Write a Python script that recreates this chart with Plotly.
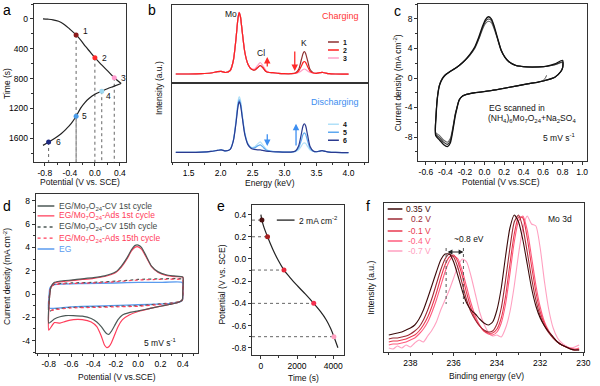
import plotly.graph_objects as go

# ======================= DATA =======================
# (a) charge / discharge: potential (V vs SCE) vs time (s)
a_charge_potential = [-0.83, -0.75, -0.67, -0.58, -0.49, -0.40, -0.30, -0.22, -0.15, -0.07, 0.00, 0.10, 0.20, 0.31, 0.42]
a_charge_time = [0, 4, 12, 32, 75, 138, 215, 292, 370, 448, 521, 610, 695, 790, 866]
a_discharge_potential = [0.42, 0.30, 0.20, 0.11, 0.00, -0.09, -0.16, -0.23, -0.30, -0.38, -0.46, -0.54, -0.64, -0.74, -0.83]
a_discharge_time = [866, 905, 937, 970, 1012, 1065, 1122, 1200, 1306, 1405, 1478, 1540, 1600, 1652, 1697]
a_marker_potential = [-0.30, 0.00, 0.31, 0.11, -0.30, -0.74]
a_marker_time = [215, 521, 790, 970, 1306, 1652]
a_marker_labels = ["1", "2", "3", "4", "5", "6"]
a_x_ticks = [-0.8, -0.4, 0.0, 0.4]
a_y_ticks = [0, 400, 800, 1200, 1600]

# (b) EDS spectra (intensity, a.u.)
b_energy = [1.30, 1.50, 1.70, 1.85, 1.95, 2.01, 2.08, 2.15, 2.20, 2.24,
            2.27, 2.29, 2.31, 2.34, 2.38, 2.43, 2.48, 2.53, 2.58, 2.62,
            2.66, 2.71, 2.76, 2.82, 2.90, 3.00, 3.10, 3.17, 3.22, 3.26,
            3.29, 3.31, 3.33, 3.36, 3.40, 3.45, 3.50, 3.55, 3.59, 3.64,
            3.70, 3.80, 3.90, 4.00]
b_charge_1 = [0.5, 0.5, 0.8, 1.5, 2.8, 3.2, 2.0, 4.0, 14, 35,
              55, 62, 58, 42, 22, 10, 5.5, 4.5, 7, 9,
              7, 3, 2, 1.8, 1.2, 0.8, 0.8, 1.5, 5, 14,
              21, 23, 21, 14, 5, 1.8, 1.2, 1.8, 2.2, 1.5,
              0.8, 0.5, 0.4, 0.4]
b_charge_2 = [0.5, 0.5, 0.8, 1.5, 2.8, 3.2, 2.0, 4.0, 14, 35,
              55, 62, 58, 42, 22, 10, 5.5, 4.5, 7, 9,
              7, 3, 2, 1.8, 1.2, 0.8, 0.8, 1.3, 3.5, 8,
              12, 13, 12, 8, 3.2, 1.5, 1.2, 1.8, 2.2, 1.5,
              0.8, 0.5, 0.4, 0.4]
b_charge_3 = [0.5, 0.5, 0.8, 1.5, 2.8, 3.2, 2.0, 4.0, 14, 35,
              55, 62.5, 58, 42, 22, 10, 6, 5.5, 9, 12,
              9, 4, 2.2, 1.8, 1.2, 0.8, 0.8, 1.0, 2.0, 3.5,
              5, 5.5, 5, 3.5, 2.0, 1.4, 1.2, 1.8, 2.2, 1.5,
              0.8, 0.5, 0.4, 0.4]
b_discharge_4 = [0.5, 0.5, 0.8, 1.5, 2.5, 3.0, 2.0, 3.8, 13, 32,
                 50, 56, 53, 38, 20, 9, 5.5, 6, 9, 11,
                 8, 4, 2.2, 1.5, 1.0, 0.8, 0.8, 1.3, 3, 6.5,
                 9.5, 10, 9.5, 6.5, 2.8, 1.4, 1.2, 1.8, 2.2, 1.5,
                 0.8, 0.5, 0.4, 0.4]
b_discharge_5 = [0.5, 0.5, 0.8, 1.5, 2.5, 3.0, 2.0, 3.6, 12.5, 30,
                 47, 53, 50, 36, 19, 8.5, 5, 5, 7, 8,
                 6, 3, 2, 1.4, 1.0, 0.8, 0.8, 1.6, 5, 12,
                 18.5, 20, 18.5, 12, 4.5, 1.7, 1.2, 1.8, 2.2, 1.5,
                 0.8, 0.5, 0.4, 0.4]
b_discharge_6 = [0.5, 0.5, 0.8, 1.5, 2.5, 3.0, 2.0, 3.5, 12, 29,
                 45, 51, 48, 35, 18, 8, 4.5, 3.5, 3, 3,
                 2.5, 1.8, 1.5, 1.2, 1.0, 0.8, 0.8, 2.0, 7, 18,
                 27, 29, 27, 18, 6.5, 2, 1.2, 1.8, 2.4, 1.5,
                 0.8, 0.5, 0.4, 0.4]
b_x_ticks = [1.5, 2.0, 2.5, 3.0, 3.5, 4.0]

# (c) CV of EG in (NH4)6Mo7O24 + Na2SO4, three cycles
c_potential = [-0.50, -0.495, -0.48, -0.46, -0.43, -0.40, -0.35, -0.30, -0.25, -0.20,
               -0.15, -0.10, -0.06, -0.02, 0.01, 0.04, 0.07, 0.10, 0.13, 0.17,
               0.21, 0.25, 0.32, 0.44, 0.55, 0.64, 0.72, 0.80, 0.80, 0.78,
               0.72, 0.64, 0.55, 0.44, 0.32, 0.20, 0.07, -0.04, -0.10, -0.16,
               -0.20, -0.23, -0.26, -0.28, -0.30, -0.32, -0.35, -0.38, -0.42, -0.46,
               -0.50]
c_current_1 = [-7.8, -5.0, -2.5, -1.0, -0.1, 0.4, 0.9, 1.3, 1.8, 2.4,
               3.2, 4.2, 5.5, 7.0, 7.9, 8.3, 8.0, 7.0, 5.6, 3.8,
               2.8, 2.2, 1.7, 1.5, 1.5, 1.6, 1.9, 2.4, 1.4, 0.85,
               0.1, -0.27, -0.55, -0.8, -1.1, -1.4, -1.7, -1.9, -2.0, -2.15,
               -2.3, -2.5, -3.0, -4.0, -5.2, -6.8, -8.8, -9.3, -9.0, -8.4,
               -7.8]
c_current_2 = [-7.6, -4.9, -2.4, -0.9, 0.0, 0.45, 0.9, 1.3, 1.8, 2.4,
               3.1, 4.1, 5.3, 6.8, 7.7, 8.0, 7.8, 6.8, 5.5, 3.8,
               2.8, 2.2, 1.7, 1.5, 1.5, 1.6, 1.8, 2.2, 1.4, 0.85,
               0.1, -0.27, -0.55, -0.8, -1.1, -1.4, -1.7, -1.9, -2.0, -2.15,
               -2.3, -2.5, -3.0, -3.9, -5.0, -6.6, -8.5, -9.0, -8.7, -8.1,
               -7.6]
c_current_3 = [-7.4, -4.8, -2.3, -0.9, 0.0, 0.45, 0.9, 1.3, 1.8, 2.4,
               3.1, 4.0, 5.2, 6.6, 7.4, 7.7, 7.5, 6.6, 5.4, 3.7,
               2.8, 2.2, 1.7, 1.5, 1.5, 1.6, 1.8, 2.1, 1.4, 0.85,
               0.1, -0.27, -0.55, -0.8, -1.1, -1.4, -1.7, -1.9, -2.0, -2.15,
               -2.3, -2.5, -3.0, -3.9, -4.9, -6.4, -8.2, -8.7, -8.4, -7.8,
               -7.4]
# start of the first scan (open-circuit potential)
c_start_potential = [0.635, 0.625, 0.61, 0.60]
c_start_current = [0.35, 0.05, -0.2, -0.35]
c_x_ticks = [-0.6, -0.4, -0.2, 0.0, 0.2, 0.4, 0.6, 0.8, 1.0]
c_y_ticks = [-8, -4, 0, 4, 8]

# (d) CVs of EG / Mo7O24 electrodes
d_potential_1st = [-0.80, -0.795, -0.78, -0.75, -0.70, -0.60, -0.50, -0.40, -0.30, -0.20,
                   -0.15, -0.10, -0.06, -0.03, 0.00, 0.03, 0.07, 0.12, 0.18, 0.25,
                   0.32, 0.40, 0.40, 0.395, 0.35, 0.28, 0.20, 0.10, 0.00, -0.08,
                   -0.14, -0.18, -0.21, -0.24, -0.26, -0.28, -0.30, -0.33, -0.37, -0.42,
                   -0.50, -0.58, -0.65, -0.70, -0.75, -0.80]
d_cv_1st = [-2.5, -0.5, 0.6, 1.0, 1.1, 1.2, 1.3, 1.4, 1.55, 1.9,
            2.4, 3.1, 3.8, 4.15, 4.2, 4.0, 3.3, 2.4, 1.9, 1.65,
            1.55, 1.45, 0.2, -0.5, -0.75, -0.9, -1.05, -1.25, -1.45, -1.6,
            -1.8, -2.2, -2.7, -3.2, -3.45, -3.4, -3.2, -2.8, -2.4, -2.1,
            -1.9, -1.85, -1.85, -1.95, -2.15, -2.5]
d_ads_1st = [-3.1, -0.5, 0.6, 0.95, 1.05, 1.15, 1.25, 1.35, 1.5, 1.85,
             2.3, 3.0, 3.7, 4.0, 4.05, 3.85, 3.2, 2.35, 1.85, 1.6,
             1.5, 1.45, 0.2, -0.5, -0.75, -0.9, -1.05, -1.25, -1.5, -1.8,
             -2.2, -2.8, -3.5, -4.2, -4.5, -4.6, -4.4, -3.6, -2.8, -2.4,
             -2.2, -2.2, -2.35, -2.5, -2.45, -3.1]
d_potential_15th = [-0.80, -0.795, -0.78, -0.75, -0.60, -0.40, -0.20, 0.00, 0.20, 0.40,
                    0.40, 0.395, 0.35, 0.20, 0.00, -0.20, -0.40, -0.60, -0.75, -0.80]
d_cv_15th = [-1.5, -0.2, 0.6, 0.85, 0.95, 1.0, 1.1, 1.25, 1.3, 1.25,
             0.3, -0.55, -0.7, -0.85, -1.0, -1.05, -1.1, -1.15, -1.3, -1.5]
d_ads_15th = [-1.4, -0.2, 0.6, 0.8, 0.9, 0.95, 1.05, 1.2, 1.25, 1.2,
              0.3, -0.55, -0.72, -0.9, -1.05, -1.1, -1.15, -1.2, -1.35, -1.45]
d_potential_eg = [-0.80, -0.798, -0.79, -0.77, -0.70, -0.50, -0.20, 0.00, 0.20, 0.395,
                  0.40, 0.40, 0.395, 0.37, 0.30, 0.10, -0.10, -0.40, -0.60, -0.80]
d_eg = [-1.2, -0.3, 0.5, 0.75, 0.85, 0.9, 0.95, 1.0, 1.0, 1.0,
        0.6, -0.3, -0.55, -0.7, -0.8, -0.9, -0.95, -1.05, -1.1, -1.2]
d_legend_names = ["EG/Mo<sub>7</sub>O<sub>24</sub>-CV 1st cycle",
                  "EG/Mo<sub>7</sub>O<sub>24</sub>-Ads 1st cycle",
                  "EG/Mo<sub>7</sub>O<sub>24</sub>-CV 15th cycle",
                  "EG/Mo<sub>7</sub>O<sub>24</sub>-Ads 15th cycle",
                  "EG"]
d_x_ticks = [-0.8, -0.6, -0.4, -0.2, 0.0, 0.2, 0.4]
d_y_ticks = [-4, -2, 0, 2, 4, 6, 8]

# (e) galvanostatic discharge at 2 mA cm-2
e_time = [0, 55, 180, 367, 650, 950, 1277, 1600, 1973, 2450, 2920, 3300, 3616, 3850, 4037, 4257]
e_potential = [0.40, 0.35, 0.28, 0.20, 0.09, -0.01, -0.10, -0.165, -0.234, -0.315, -0.40, -0.475, -0.55, -0.625, -0.70, -0.80]
e_marker_time = [55, 367, 1277, 2920, 4037]
e_marker_potential = [0.35, 0.20, -0.10, -0.40, -0.70]
e_x_ticks = [0, 2000, 4000]
e_y_ticks = [-0.8, -0.6, -0.4, -0.2, 0.0, 0.2, 0.4]

# (f) XPS Mo 3d at different potentials
f_binding_energy = [239.0, 238.8, 238.6, 238.4, 238.2, 238.0, 237.8, 237.6, 237.4, 237.2,
                    237.0, 236.8, 236.6, 236.4, 236.2, 236.0, 235.8, 235.6, 235.4, 235.2,
                    235.0, 234.8, 234.6, 234.4, 234.2, 234.0, 233.8, 233.6, 233.4, 233.2,
                    233.0, 232.8, 232.6, 232.4, 232.2, 232.0, 231.8, 231.6, 231.4, 231.2,
                    231.0, 230.8, 230.6, 230.4, 230.2]
f_035V = [17, 18, 19, 20, 22, 24, 27, 33, 42, 54,
          67, 80, 92, 98, 98, 90, 76, 61, 49, 42,
          38, 33, 29, 27, 30, 42, 64, 96, 124, 137,
          130, 112, 88, 64, 46, 34, 26, 20, 15, 10,
          7, 5, 3, 2, 2]
f_02V = [13, 14, 14, 15, 16, 18, 21, 25, 32, 42,
         54, 68, 82, 93, 98, 95, 84, 68, 52, 40,
         32, 26, 22, 20, 21, 28, 44, 72, 104, 130,
         137, 124, 100, 74, 52, 36, 26, 19, 14, 10,
         7, 5, 3, 2, 2]
f_m01V = [10, 11, 11, 12, 13, 15, 17, 21, 27, 35,
          46, 59, 74, 87, 95, 97, 90, 76, 59, 44,
          33, 26, 21, 19, 19, 23, 34, 56, 88, 118,
          135, 134, 114, 86, 60, 40, 28, 20, 14, 10,
          7, 5, 3, 2, 3]
f_m04V = [7, 8, 8, 9, 10, 12, 14, 18, 23, 30,
          40, 52, 66, 80, 91, 96, 93, 81, 65, 49,
          36, 27, 21, 18, 17, 20, 29, 48, 78, 110,
          131, 136, 122, 95, 67, 45, 30, 21, 15, 10,
          7, 5, 4, 3, 4]
f_m07V = [4, 3, 6, 4, 7, 5, 9, 12, 10, 16,
          22, 30, 42, 52, 62, 74, 86, 93, 90, 76,
          58, 40, 28, 20, 16, 17, 15, 24, 40, 66,
          98, 124, 136, 128, 126, 104, 70, 42, 24, 14,
          9, 6, 4, 5, 7]
f_labels = ["0.35 V", "0.2 V", "-0.1 V", "-0.4 V", "-0.7 V"]
f_shift_peaks = [236.35, 235.55]
f_x_ticks = [238, 236, 234, 232, 230]

# ======================= STYLE =======================
W, H = 600, 386
FONT = "Arial, 'Liberation Sans', Helvetica, sans-serif"
AX = "#333333"


def px(x):
    return x / W


def py(y):
    return 1 - y / H


def fmt1(v):
    return f"{v:.1f}"


def make_axis(domain, rng, tickvals, ticktext, minor_dtick=None, minor_tick0=0,
              anchor=None, showticks=True, showlabels=True):
    ax = dict(domain=domain, range=rng, anchor=anchor, showline=True, linecolor=AX,
              linewidth=1, mirror=True, showgrid=False, zeroline=False,
              ticks="outside" if showticks else "", ticklen=3, tickwidth=1,
              tickcolor=AX, tickmode="array", tickvals=tickvals, ticktext=ticktext,
              showticklabels=showlabels, tickfont=dict(family=FONT, size=8.5, color="#000"),
              fixedrange=True)
    if minor_dtick:
        ax["minor"] = dict(dtick=minor_dtick, tick0=minor_tick0, ticks="outside",
                           ticklen=2, tickwidth=1, tickcolor=AX, showgrid=False)
    return ax


fig = go.Figure()
ann = []
shapes = []


def text(x, y, s, size=8.5, color="#111", xref="paper", yref="paper",
         xanchor="center", yanchor="middle", angle=0):
    ann.append(dict(x=x, y=y, text=s, xref=xref, yref=yref, showarrow=False,
                    xanchor=xanchor, yanchor=yanchor, textangle=angle,
                    font=dict(family=FONT, size=size, color=color)))


def line(x, y, xa, ya, color, width=1.2, dash="solid", shape="spline", smoothing=1.0):
    fig.add_trace(go.Scatter(x=x, y=y, xaxis=xa, yaxis=ya, mode="lines",
                             line=dict(color=color, width=width, dash=dash, shape=shape,
                                       smoothing=smoothing),
                             showlegend=False, hoverinfo="skip"))


# ---------- (a) ----------
a_ymax = 1920
a_colors = ["#8B1A1A", "#FF2A2A", "#FF9ACD", "#9ED8F0", "#4A9BE8", "#1E2A80"]
a_label_shift = [(8, 4), (8, 0), (8, 0), (5, -5), (7, 0), (8, 0)]
for p, t in zip(a_marker_potential, a_marker_time):
    line([p, p], [t, a_ymax], "x", "y", "#666", width=1, dash="dot", shape="linear")
line(a_charge_potential, a_charge_time, "x", "y", "#222")
line(a_discharge_potential, a_discharge_time, "x", "y", "#222")
fig.add_trace(go.Scatter(x=a_marker_potential, y=a_marker_time, xaxis="x", yaxis="y",
                         mode="markers", marker=dict(color=a_colors, size=5),
                         showlegend=False, hoverinfo="skip"))
for p, t, lab, (dx, dy) in zip(a_marker_potential, a_marker_time, a_marker_labels, a_label_shift):
    ann.append(dict(x=p, y=t, xref="x", yref="y", text=lab, showarrow=False,
                    xanchor="left", yanchor="middle", xshift=dx - 3, yshift=dy,
                    font=dict(family=FONT, size=8.5, color="#111")))

# ---------- (b) ----------
b_top_colors = ["#8E3030", "#FF2020", "#FFA0C8"]
b_bot_colors = ["#B0E0F8", "#5DA8F0", "#2B3A8F"]
line(b_energy, b_charge_1, "x2", "y2", b_top_colors[0], width=1.2, smoothing=0.7)
line(b_energy, b_charge_3, "x2", "y2", b_top_colors[2], width=1.2, smoothing=0.7)
line(b_energy, b_charge_2, "x2", "y2", b_top_colors[1], width=1.2, smoothing=0.7)
line(b_energy, b_discharge_4, "x3", "y3", b_bot_colors[0], width=1.2, smoothing=0.7)
line(b_energy, b_discharge_5, "x3", "y3", b_bot_colors[1], width=1.2, smoothing=0.7)
line(b_energy, b_discharge_6, "x3", "y3", b_bot_colors[2], width=1.2, smoothing=0.7)
text(2.16, 61, "Mo", 8.5, xref="x2", yref="y2")
text(2.63, 21.5, "Cl", 8.5, xref="x2", yref="y2")
text(3.31, 31.5, "K", 8.5, xref="x2", yref="y2")
text(4.19, 58.5, "Charging", 9, color="#FF3535", xref="x2", yref="y2", xanchor="right")
text(4.19, 51, "Discharging", 9, color="#3D8EF0", xref="x3", yref="y3", xanchor="right")
for yv, c, lab in zip([32.5, 24.5, 16.5], b_top_colors, ["1", "2", "3"]):
    shapes.append(dict(type="line", xref="x2", yref="y2", x0=3.68, x1=3.85, y0=yv, y1=yv,
                       line=dict(color=c, width=1.5)))
    text(3.89, yv, "<b>" + lab + "</b>", 7, xref="x2", yref="y2", xanchor="left")
for yv, c, lab in zip([28.5, 20.5, 12.5], b_bot_colors, ["4", "5", "6"]):
    shapes.append(dict(type="line", xref="x3", yref="y3", x0=3.68, x1=3.85, y0=yv, y1=yv,
                       line=dict(color=c, width=1.5)))
    text(3.89, yv, "<b>" + lab + "</b>", 7, xref="x3", yref="y3", xanchor="left")


def arrow(x, y0, y1, xa, ya, color):
    ann.append(dict(x=x, y=y1, ax=x, ay=y0, xref=xa, yref=ya, axref=xa, ayref=ya,
                    text="", showarrow=True, arrowhead=2, arrowsize=1, arrowwidth=1.3,
                    arrowcolor=color))


arrow(2.73, 6.5, 17.5, "x2", "y2", "#FF2A2A")
arrow(3.16, 24.5, 3.5, "x2", "y2", "#FF2A2A")
arrow(2.73, 20, 7, "x3", "y3", "#3D8EF0")
arrow(3.18, 6, 29, "x3", "y3", "#3D8EF0")

# ---------- (c) ----------
line(c_potential, c_current_3, "x4", "y4", "#666", width=1.1, smoothing=0.6)
line(c_potential, c_current_2, "x4", "y4", "#333", width=1.1, smoothing=0.6)
line(c_potential, c_current_1, "x4", "y4", "#111", width=1.3, smoothing=0.6)
line(c_start_potential, c_start_current, "x4", "y4", "#444", width=1.0, smoothing=0.6)
text(0.03, -4.1, "EG scanned in", 8.5, xref="x4", yref="y4", xanchor="left")
text(0.02, -5.5, "(NH<sub>4</sub>)<sub>6</sub>Mo<sub>7</sub>O<sub>24</sub>+Na<sub>2</sub>SO<sub>4</sub>",
     8.5, xref="x4", yref="y4", xanchor="left")
text(0.95, -8.0, "5 mV s<sup>-1</sup>", 8.5, xref="x4", yref="y4", xanchor="right")

# ---------- (d) ----------
d_colors = ["#4C5856", "#FF3D5A", "#4C5856", "#FF3D5A", "#5A9BEF"]
d_dash = ["solid", "solid", "dot", "dot", "solid"]
line(d_potential_eg, d_eg, "x5", "y5", d_colors[4], width=1.4, smoothing=0.5)
line(d_potential_15th, d_cv_15th, "x5", "y5", d_colors[2], width=1.2, dash="dot", smoothing=0.5)
line(d_potential_15th, d_ads_15th, "x5", "y5", d_colors[3], width=1.2, dash="dot", smoothing=0.5)
line(d_potential_1st, d_ads_1st, "x5", "y5", d_colors[1], width=1.2, smoothing=0.5)
line(d_potential_1st, d_cv_1st, "x5", "y5", d_colors[0], width=1.2, smoothing=0.5)
for yv, name, c, dsh in zip([7.55, 6.7, 5.75, 4.8, 3.86], d_legend_names, d_colors, d_dash):
    shapes.append(dict(type="line", xref="x5", yref="y5", x0=-0.90, x1=-0.75, y0=yv, y1=yv,
                       line=dict(color=c, width=1.3, dash=dsh)))
    text(-0.725, yv, name, 8.5, color=("#3F4A48" if c == "#4C5856" else c),
         xref="x5", yref="y5", xanchor="left")
text(0.36, -4.15, "5 mV s<sup>-1</sup>", 8.5, xref="x5", yref="y5", xanchor="right")

# ---------- (e) ----------
e_xmin = -490
e_colors = ["#4A1010", "#A82020", "#E8283C", "#F53050", "#FFA0C0"]
for t, v in zip(e_marker_time, e_marker_potential):
    line([e_xmin, t], [v, v], "x6", "y6", "#666", width=1, dash="dot", shape="linear")
line(e_time, e_potential, "x6", "y6", "#222")
fig.add_trace(go.Scatter(x=e_marker_time, y=e_marker_potential, xaxis="x6", yaxis="y6",
                         mode="markers", marker=dict(color=e_colors, size=5),
                         showlegend=False, hoverinfo="skip"))
shapes.append(dict(type="line", xref="x6", yref="y6", x0=880, x1=1860, y0=0.35, y1=0.35,
                   line=dict(color="#222", width=1.3)))
text(2000, 0.35, "2 mA cm<sup>-2</sup>", 8.5, xref="x6", yref="y6", xanchor="left")

# ---------- (f) ----------
f_colors = ["#3B0A0A", "#9C2A35", "#E8384F", "#FF5C7E", "#FFA0C0"]
f_series = [f_035V, f_02V, f_m01V, f_m04V, f_m07V]
for ser, c in reversed(list(zip(f_series, f_colors))):
    line(f_binding_energy, ser, "x7", "y7", c, width=1.1, smoothing=0.6)
for yv, lab, c in zip([143, 133, 121, 111, 101], f_labels, f_colors):
    shapes.append(dict(type="line", xref="x7", yref="y7", x0=239.05, x1=238.37, y0=yv, y1=yv,
                       line=dict(color=c, width=1.5)))
    text(236.95, yv, lab, 8.5, color=c, xref="x7", yref="y7", xanchor="right")
text(230.45, 133, "Mo 3d", 8.5, xref="x7", yref="y7", xanchor="right")
for be in f_shift_peaks:
    line([be, be], [104, 48], "x7", "y7", "#555", width=1, dash="dot", shape="linear")
ann.append(dict(x=f_shift_peaks[1], y=100, ax=f_shift_peaks[0], ay=100, xref="x7", yref="y7",
                axref="x7", ayref="y7", text="", showarrow=True, arrowhead=2, arrowside="end+start",
                arrowsize=0.8, arrowwidth=1.2, arrowcolor="#222"))
text(236.1, 113, "~0.8 eV", 8.5, xref="x7", yref="y7", xanchor="left")

# ---------- axis titles & panel letters ----------
text(px(81), py(182), "Potential (V vs. SCE)")
text(px(7), py(83), "Time (s)", angle=-90)
text(px(273), py(183), "Energy (keV)")
text(px(161), py(88), "Intensity (a.u.)", angle=-90)
text(px(507), py(182), "Potential (V vs.SCE)")
text(px(402), py(83), "Current density (mA cm<sup>-2</sup>)", angle=-90)
text(px(118), py(377), "Potential (V vs.SCE)")
text(px(7), py(276), "Current density (mA cm<sup>-2</sup>)", angle=-90)
text(px(307), py(378), "Time (s)")
text(px(225), py(284), "Potential (V vs. SCE)", angle=-90)
text(px(492), py(376), "Binding energy (eV)")
text(px(375), py(288), "Intensity (a.u.)", angle=-90)
for letter, x, y in [("a", 7, 10), ("b", 154, 10), ("c", 402, 11),
                     ("d", 7, 206), ("e", 224, 206), ("f", 372, 206)]:
    text(px(x), py(y), letter, 14, color="#000")

# ---------- layout ----------
layout = dict(
    width=W, height=H, margin=dict(l=0, r=0, t=0, b=0),
    paper_bgcolor="white", plot_bgcolor="white", showlegend=False,
    font=dict(family=FONT, size=8, color="#111"),
    xaxis=make_axis([px(34), px(127)], [-0.98, 0.49], a_x_ticks, [fmt1(v) for v in a_x_ticks],
                    minor_dtick=0.2, anchor="y"),
    yaxis=make_axis([py(162), py(4)], [1920, -200], a_y_ticks, [str(v) for v in a_y_ticks],
                    minor_dtick=200, anchor="x"),
    xaxis2=make_axis([px(174), px(372)], [1.24, 4.30], b_x_ticks, [fmt1(v) for v in b_x_ticks],
                     anchor="y2", showticks=False, showlabels=False),
    yaxis2=make_axis([py(82.5), py(5)], [-8, 69.5], [], [], anchor="x2", showticks=False),
    xaxis3=make_axis([px(174), px(372)], [1.24, 4.30], b_x_ticks, [fmt1(v) for v in b_x_ticks],
                     minor_dtick=0.25, minor_tick0=0, anchor="y3"),
    yaxis3=make_axis([py(162), py(82.5)], [-9, 70], [], [], anchor="x3", showticks=False),
    xaxis4=make_axis([px(423), px(594)], [-0.68, 1.05], c_x_ticks, [fmt1(v) for v in c_x_ticks],
                     minor_dtick=0.1, anchor="y4"),
    yaxis4=make_axis([py(161), py(4)], [-11.25, 10.03], c_y_ticks, [str(v) for v in c_y_ticks],
                     minor_dtick=2, anchor="x4"),
    xaxis5=make_axis([px(36), px(200)], [-0.918, 0.533], d_x_ticks, [fmt1(v) for v in d_x_ticks],
                     minor_dtick=0.1, anchor="y5"),
    yaxis5=make_axis([py(353), py(194)], [-5.06, 8.58], d_y_ticks, [str(v) for v in d_y_ticks],
                     minor_dtick=1, anchor="x5"),
    xaxis6=make_axis([px(255), px(348)], [e_xmin, 4590], e_x_ticks, [str(v) for v in e_x_ticks],
                     minor_dtick=1000, anchor="y6"),
    yaxis6=make_axis([py(355), py(205)], [-0.865, 0.486], e_y_ticks, [fmt1(v) for v in e_y_ticks],
                     minor_dtick=0.1, anchor="x6"),
    xaxis7=make_axis([px(389), px(591)], [239.2, 229.97], f_x_ticks, [str(v) for v in f_x_ticks],
                     minor_dtick=1, anchor="y7"),
    yaxis7=make_axis([py(352), py(203)], [0, 149], [], [], anchor="x7", showticks=False),
    annotations=ann, shapes=shapes,
)
fig.update_layout(**layout)
fig.write_html("out.html", config={"displayModeBar": False, "staticPlot": True},
               post_script="document.body.style.margin='0px';document.body.style.padding='0px';")
